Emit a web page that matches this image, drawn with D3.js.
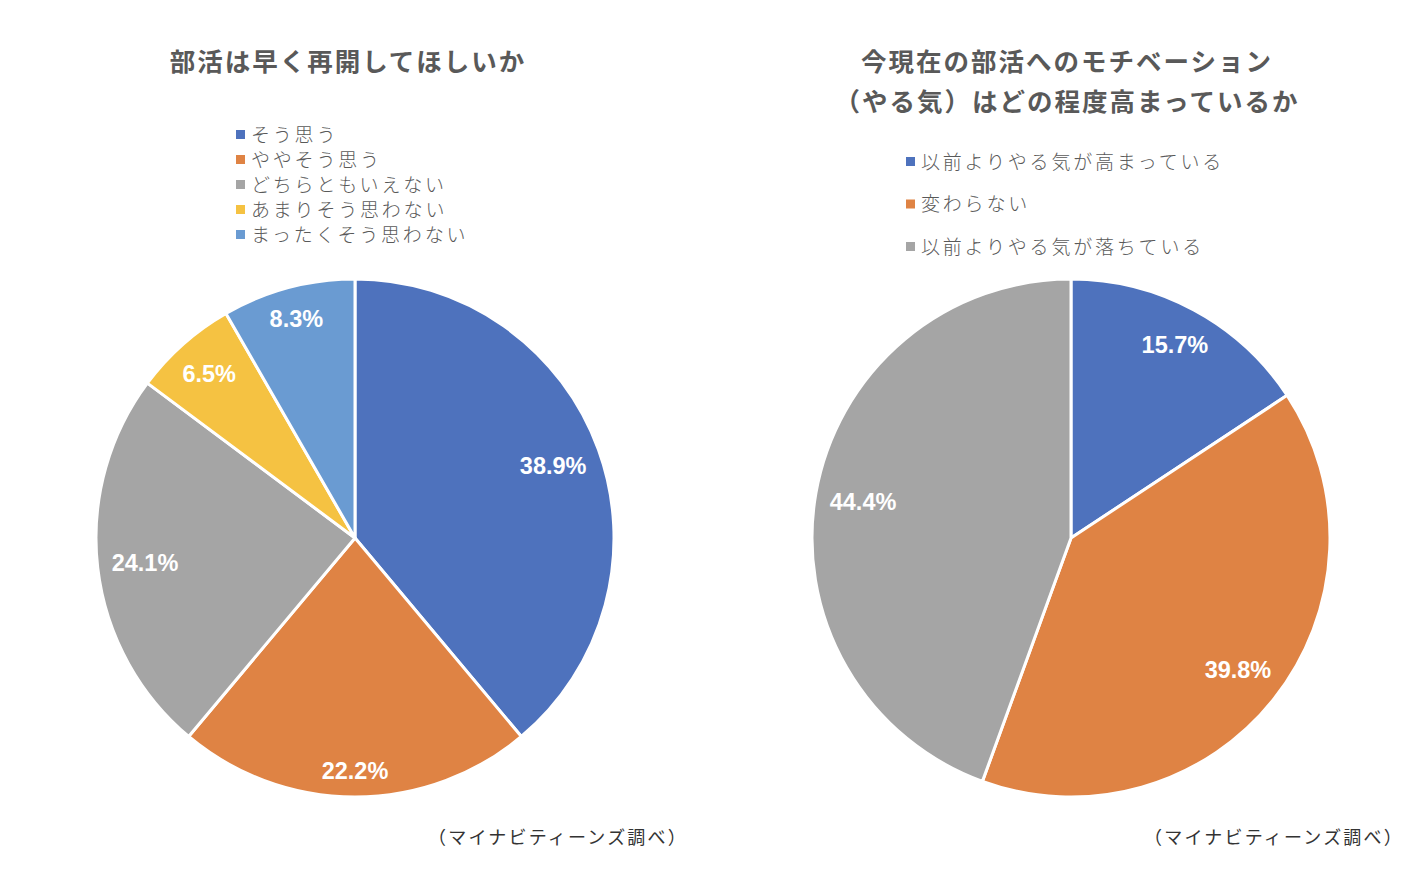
<!DOCTYPE html>
<html><head><meta charset="utf-8">
<script src="https://cdn.jsdelivr.net/npm/d3@7"></script>
<style>
html,body{margin:0;padding:0;background:#fff;}
svg{display:block;}
</style></head>
<body>
<svg id="c" width="1428" height="874"></svg>
<script>
const title1 = ["部活は早く再開してほしいか"];
const categories1 = ["そう思う", "ややそう思う", "どちらともいえない", "あまりそう思わない", "まったくそう思わない"];
const values1 = [38.9, 22.2, 24.1, 6.5, 8.3];
const colors1 = ["#4E72BD", "#DF8344", "#A5A5A5", "#F5C242", "#6A9BD2"];

const title2 = ["今現在の部活へのモチベーション", "（やる気）はどの程度高まっているか"];
const categories2 = ["以前よりやる気が高まっている", "変わらない", "以前よりやる気が落ちている"];
const values2 = [15.7, 39.8, 44.4];
const colors2 = ["#4E72BD", "#DF8344", "#A5A5A5"];

const source = "（マイナビティーンズ調べ）";

const svg = d3.select("#c");
const JP = "'Noto Sans CJK JP','Noto Sans',sans-serif";
const NUM = "'Liberation Sans',Arial,Helvetica,sans-serif";

function drawPie(cfg) {
  const g = svg.append("g");
  // title
  cfg.title.forEach((t, i) => {
    g.append("text").attr("x", cfg.titleX).attr("y", cfg.titleY + i * cfg.titleGap)
      .attr("text-anchor", "middle").attr("font-family", JP).attr("font-weight", 700)
      .attr("font-size", 25.5).attr("letter-spacing", 2).attr("fill", "#595959").text(t);
  });
  // legend
  const lg = g.append("g");
  cfg.cats.forEach((c, i) => {
    const y = cfg.legY + i * cfg.legGap;
    lg.append("rect").attr("x", cfg.legX).attr("y", y - 5).attr("width", 9).attr("height", 9)
      .attr("fill", cfg.colors[i]);
    lg.append("text").attr("x", cfg.legX + 15).attr("y", y).attr("dy", "0.36em")
      .attr("font-family", JP).attr("font-size", 19).attr("font-weight", 300).attr("letter-spacing", 2.8)
      .attr("fill", "#595959").text(c);
  });
  // pie
  const pie = d3.pie().sort(null).value(d => d)(cfg.values);
  const R = cfg.r;
  const arc = d3.arc().innerRadius(0).outerRadius(R);
  const pg = g.append("g").attr("transform", `translate(${cfg.cx},${cfg.cy})`);
  pg.selectAll("path").data(pie).join("path")
    .attr("d", arc).attr("fill", (d, i) => cfg.colors[i])
    .attr("stroke", "#fff").attr("stroke-width", 3).attr("stroke-linejoin", "round");
  // labels: inside end, box fit within circle of radius R - pad
  const pad = 13;
  pie.forEach((d, i) => {
    const t = pg.append("text").attr("text-anchor", "middle").attr("dy", "0.36em")
      .attr("font-family", NUM).attr("font-weight", 700).attr("font-size", 23.5)
      .attr("fill", "#fff").text(d.value.toFixed(1) + "%");
    const bb = t.node().getBBox();
    const w = bb.width / 2, h = 11;
    const a = (d.startAngle + d.endAngle) / 2;
    const ux = Math.sin(a), uy = -Math.cos(a);
    let lo = 0, hi = R;
    for (let k = 0; k < 40; k++) {
      const m = (lo + hi) / 2;
      const x = ux * m, y = uy * m;
      const fx = Math.abs(x) + w, fy = Math.abs(y) + h;
      if (Math.hypot(fx, fy) <= R - pad) lo = m; else hi = m;
    }
    t.attr("x", ux * lo).attr("y", uy * lo);
  });
  // source
  g.append("text").attr("x", cfg.srcX).attr("y", cfg.srcY).attr("text-anchor", "middle")
    .attr("dy", "0.36em").attr("font-family", JP).attr("font-size", 18).attr("letter-spacing", 2.2)
    .attr("fill", "#333").text(source);
}

drawPie({title: title1, titleX: 348, titleY: 71, titleGap: 40,
  cats: categories1, values: values1, colors: colors1,
  legX: 236, legY: 135, legGap: 25,
  cx: 355, cy: 538, r: 259, srcX: 558, srcY: 838});

drawPie({title: title2, titleX: 1067, titleY: 71, titleGap: 40,
  cats: categories2, values: values2, colors: colors2,
  legX: 906, legY: 162, legGap: 42.5,
  cx: 1071, cy: 538, r: 259, srcX: 1274, srcY: 838});
</script>
</body></html>
